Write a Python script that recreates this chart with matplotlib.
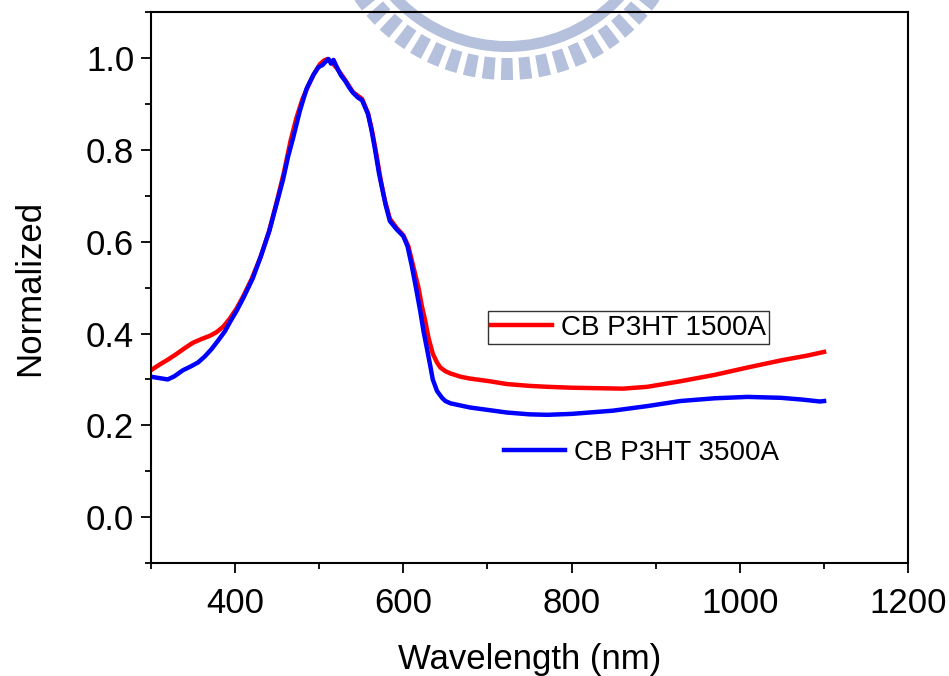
import numpy as np
import matplotlib.pyplot as plt
from matplotlib.patches import Wedge

plt.rcParams['font.family'] = ['Liberation Sans', 'DejaVu Sans']

# CB P3HT 1500A
wl_1500 = [300, 310, 320, 330, 340, 350, 360, 370, 378, 386, 394, 402, 410, 420, 430,
           440, 450, 458, 466, 473, 480, 487, 494, 501, 506, 510, 514, 521, 531, 540,
           551, 558, 563, 568, 573, 578, 584, 592, 600, 606, 612, 618, 622, 626, 630,
           635, 640, 644, 650, 656, 668, 679, 703, 723, 750, 771, 800, 830, 861, 890,
           929, 970, 1009, 1050, 1080, 1100]
norm_1500 = [0.320, 0.332, 0.343, 0.355, 0.368, 0.380, 0.388, 0.395, 0.403, 0.415, 0.433,
             0.455, 0.482, 0.520, 0.565, 0.620, 0.690, 0.750, 0.820, 0.870, 0.910, 0.940,
             0.966, 0.987, 0.995, 0.998, 0.993, 0.978, 0.952, 0.926, 0.911, 0.880, 0.840,
             0.790, 0.735, 0.690, 0.650, 0.630, 0.614, 0.590, 0.545, 0.500, 0.460, 0.428,
             0.390, 0.356, 0.337, 0.326, 0.318, 0.313, 0.306, 0.302, 0.296, 0.290, 0.286,
             0.284, 0.282, 0.281, 0.280, 0.284, 0.296, 0.310, 0.326, 0.342, 0.352, 0.360]

# CB P3HT 3500A
wl_3500 = [300, 310, 320, 328, 338, 347, 356, 364, 372, 380, 388, 394, 402, 410, 421,
           431, 441, 449, 457, 463, 469, 477, 485, 493, 499, 504, 508, 511, 514, 517,
           521, 526, 531, 536, 540, 546, 551, 558, 562, 566, 571, 575, 579, 584, 592,
           600, 605, 610, 615, 620, 624, 628, 632, 635, 640, 646, 650, 656, 679, 703,
           723, 750, 771, 800, 849, 890, 929, 970, 1009, 1049, 1075, 1095, 1100]
norm_3500 = [0.306, 0.303, 0.300, 0.307, 0.320, 0.328, 0.337, 0.350, 0.366, 0.385, 0.405,
             0.425, 0.450, 0.478, 0.520, 0.570, 0.625, 0.680, 0.735, 0.785, 0.826, 0.885,
             0.933, 0.963, 0.980, 0.985, 0.993, 0.998, 0.988, 0.996, 0.980, 0.962, 0.950,
             0.935, 0.925, 0.914, 0.908, 0.878, 0.845, 0.805, 0.750, 0.715, 0.680, 0.645,
             0.627, 0.612, 0.590, 0.548, 0.500, 0.450, 0.405, 0.368, 0.330, 0.300, 0.275,
             0.260, 0.253, 0.248, 0.239, 0.233, 0.228, 0.224, 0.223, 0.225, 0.232, 0.242,
             0.253, 0.259, 0.262, 0.260, 0.256, 0.252, 0.253]

fig = plt.figure(figsize=(9.49, 6.76), dpi=100)

# watermark logo behind the plot (pixel coords, y up)
bg = fig.add_axes([0, 0, 1, 1], zorder=0)
bg.set_xlim(0, 949)
bg.set_ylim(0, 676)
bg.axis('off')
wm = '#b4c0dc'
cx, cy = 507, 676 + 106
bg.add_patch(Wedge((cx, cy), 158, 180, 360, width=11, color=wm, lw=0))
for k in range(-16, 17):
    a = 270 + k * 5.9
    bg.add_patch(Wedge((cx, cy), 186, a - 1.9, a + 1.9, width=22, color=wm, lw=0))

ax = fig.add_axes([0.159, 0.167, 0.798, 0.815], zorder=1)
ax.patch.set_alpha(0)

ax.plot(wl_1500, norm_1500, color='#ff0000', lw=3.2, label='CB P3HT 1500A')
ax.plot(wl_3500, norm_3500, color='#0000ff', lw=3.2, label='CB P3HT 3500A')

ax.set_xlim(300, 1200)
ax.set_ylim(-0.1, 1.1)
ax.set_xticks([400, 600, 800, 1000, 1200])
ax.set_xticks(np.arange(300, 1201, 100), minor=True)
ax.set_yticks([0.0, 0.2, 0.4, 0.6, 0.8, 1.0])
ax.set_yticks(np.arange(-0.1, 1.11, 0.1), minor=True)
ax.set_yticklabels(['0.0', '0.2', '0.4', '0.6', '0.8', '1.0'])

for s in ax.spines.values():
    s.set_linewidth(1.5)
ax.tick_params(which='major', direction='out', length=7, width=1.3, labelsize=25)
ax.tick_params(which='minor', direction='out', length=4, width=1.3)
ax.tick_params(axis='x', which='major', pad=10)
ax.tick_params(axis='y', which='major', pad=5)
ax.tick_params(which='both', top=False, right=False)

ax.set_xlabel('Wavelength (nm)', fontsize=25, labelpad=17)
ax.set_ylabel('Normalized', fontsize=25, labelpad=29)

h = ax.get_lines()
leg1 = ax.legend([h[0]], ['CB P3HT 1500A'], loc='upper left', bbox_to_anchor=(0.445, 0.457),
                 fontsize=20, frameon=True, fancybox=False, edgecolor='black',
                 handlelength=2.2, handletextpad=0.3, borderpad=0.12, borderaxespad=0)
leg1.get_frame().set_linewidth(1.0)
ax.add_artist(leg1)
ax.legend([h[1]], ['CB P3HT 3500A'], loc='upper left', bbox_to_anchor=(0.462, 0.23),
          fontsize=20, frameon=False, handlelength=2.2, handletextpad=0.3,
          borderpad=0.12, borderaxespad=0)

fig.savefig('out.png', dpi=100)
